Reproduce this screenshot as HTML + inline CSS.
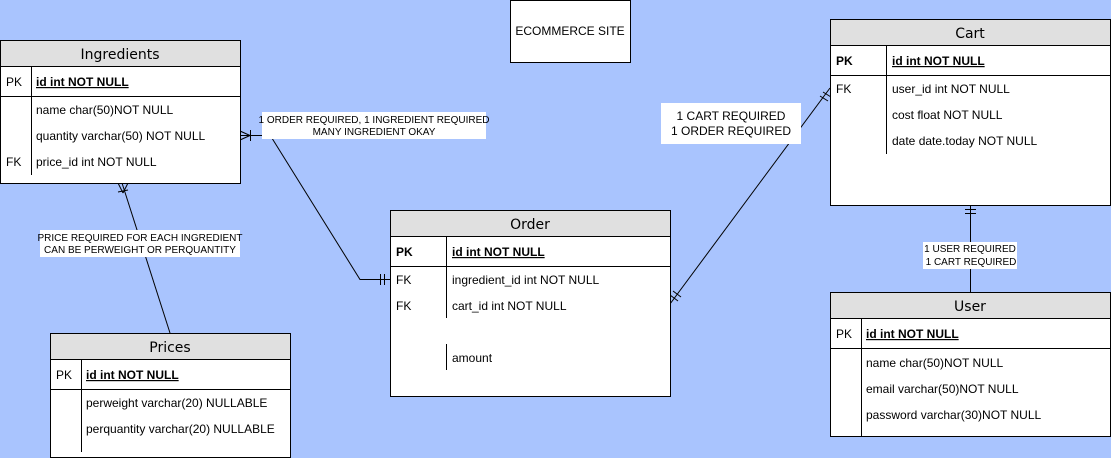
<!DOCTYPE html>
<html><head><meta charset="utf-8"><style>
body{margin:0;width:1111px;height:458px;background:#a9c4fe;overflow:hidden}
svg{display:block}
text{font-family:"Liberation Sans",Arial,sans-serif;font-size:12px;fill:#000}
.h{font-family:"DejaVu Sans",sans-serif;font-size:14px}
.s{font-size:10px}
</style></head><body>
<svg width="1111" height="458" viewBox="0 0 1111 458">
<g stroke="#000" fill="none" stroke-width="1">
<!-- connectors -->
<polyline points="240.5,135.5 262,135.5"/>
<polyline points="270,135 360,279.5 390,279.5"/>
<line x1="122" y1="183" x2="170" y2="333"/>
<line x1="670" y1="304" x2="830" y2="88"/>
<line x1="970.5" y1="205" x2="970.5" y2="292"/>
<!-- crows feet ingredients side -->
<line x1="240" y1="131" x2="250" y2="135.5"/><line x1="240" y1="140" x2="250" y2="135.5"/><line x1="250.5" y1="130" x2="250.5" y2="141"/>
<line x1="118" y1="183" x2="123" y2="193"/><line x1="128" y1="183" x2="123" y2="193"/><line x1="118" y1="192" x2="128" y2="190"/>
<line x1="380.5" y1="274" x2="380.5" y2="285"/><line x1="384.5" y1="274" x2="384.5" y2="285"/>
<line x1="820" y1="96" x2="828" y2="101"/><line x1="823" y1="92" x2="831" y2="97"/>
<line x1="670" y1="295" x2="678" y2="301"/><line x1="673" y1="291" x2="681" y2="297"/>
<line x1="965" y1="209.5" x2="976" y2="209.5"/><line x1="965" y1="213.5" x2="976" y2="213.5"/>
</g>
<!-- ecommerce -->
<rect x="510.5" y="0.5" width="120" height="62" fill="#fff" stroke="#000"/>
<text x="570" y="35" text-anchor="middle">ECOMMERCE SITE</text>
<!-- labels -->
<rect x="262" y="112" width="224" height="27" fill="#fff"/>
<text class="s" x="374" y="123" text-anchor="middle">1 ORDER REQUIRED, 1 INGREDIENT REQUIRED</text>
<text class="s" x="374" y="135" text-anchor="middle">MANY INGREDIENT OKAY</text>
<rect x="40" y="230" width="200" height="27" fill="#fff"/>
<text class="s" x="140" y="241" text-anchor="middle">PRICE REQUIRED FOR EACH INGREDIENT</text>
<text class="s" x="140" y="253" text-anchor="middle">CAN BE PERWEIGHT OR PERQUANTITY</text>
<rect x="661" y="103" width="140" height="41" fill="#fff"/>
<text x="731" y="120" text-anchor="middle">1 CART REQUIRED</text>
<text x="731" y="135" text-anchor="middle">1 ORDER REQUIRED</text>
<rect x="923" y="242" width="94" height="27" fill="#fff"/>
<text class="s" x="970" y="252" text-anchor="middle">1 USER REQUIRED</text>
<text class="s" x="971" y="265" text-anchor="middle">1 CART REQUIRED</text>

<!-- Ingredients -->
<g>
<rect x="0.5" y="40.5" width="240" height="143" fill="#fff" stroke="#000"/>
<rect x="0.5" y="40.5" width="240" height="26" fill="#e0e0e0" stroke="#000"/>
<line x1="0" y1="96.5" x2="240" y2="96.5" stroke="#000"/>
<line x1="31.5" y1="66" x2="31.5" y2="175" stroke="#000"/>
<text class="h" x="120" y="59" text-anchor="middle">Ingredients</text>
<text x="6" y="86">PK</text><text x="36" y="86" font-weight="bold" text-decoration="underline">id int NOT NULL</text>
<text x="36" y="114">name char(50)NOT NULL</text>
<text x="36" y="140">quantity varchar(50) NOT NULL</text>
<text x="6" y="166">FK</text><text x="36" y="166">price_id int NOT NULL</text>
</g>
<!-- Prices -->
<g>
<rect x="50.5" y="333.5" width="240" height="124" fill="#fff" stroke="#000"/>
<rect x="50.5" y="333.5" width="240" height="26" fill="#e0e0e0" stroke="#000"/>
<line x1="50" y1="389.5" x2="290" y2="389.5" stroke="#000"/>
<line x1="81.5" y1="359" x2="81.5" y2="452" stroke="#000"/>
<text class="h" x="170" y="352" text-anchor="middle">Prices</text>
<text x="56" y="379">PK</text><text x="86" y="379" font-weight="bold" text-decoration="underline">id int NOT NULL</text>
<text x="86" y="407">perweight varchar(20) NULLABLE</text>
<text x="86" y="433">perquantity varchar(20) NULLABLE</text>
</g>
<!-- Order -->
<g>
<rect x="390.5" y="210.5" width="280" height="186" fill="#fff" stroke="#000"/>
<rect x="390.5" y="210.5" width="280" height="26" fill="#e0e0e0" stroke="#000"/>
<line x1="390" y1="266.5" x2="670" y2="266.5" stroke="#000"/>
<line x1="446.5" y1="236" x2="446.5" y2="318" stroke="#000"/>
<line x1="446.5" y1="344" x2="446.5" y2="370" stroke="#000"/>
<text class="h" x="530" y="229" text-anchor="middle">Order</text>
<text x="396" y="256" font-weight="bold">PK</text><text x="452" y="256" font-weight="bold" text-decoration="underline">id int NOT NULL</text>
<text x="396" y="284">FK</text><text x="452" y="284">ingredient_id int NOT NULL</text>
<text x="396" y="310">FK</text><text x="452" y="310">cart_id int NOT NULL</text>
<text x="452" y="362">amount</text>
</g>
<!-- Cart -->
<g>
<rect x="830.5" y="19.5" width="280" height="186" fill="#fff" stroke="#000"/>
<rect x="830.5" y="19.5" width="280" height="26" fill="#e0e0e0" stroke="#000"/>
<line x1="830" y1="75.5" x2="1110" y2="75.5" stroke="#000"/>
<line x1="886.5" y1="45" x2="886.5" y2="154" stroke="#000"/>
<text class="h" x="970" y="38" text-anchor="middle">Cart</text>
<text x="836" y="65" font-weight="bold">PK</text><text x="892" y="65" font-weight="bold" text-decoration="underline">id int NOT NULL</text>
<text x="836" y="93">FK</text><text x="892" y="93">user_id int NOT NULL</text>
<text x="892" y="119">cost float NOT NULL</text>
<text x="892" y="145">date date.today NOT NULL</text>
</g>
<!-- User -->
<g>
<rect x="830.5" y="292.5" width="280" height="144" fill="#fff" stroke="#000"/>
<rect x="830.5" y="292.5" width="280" height="26" fill="#e0e0e0" stroke="#000"/>
<line x1="830" y1="348.5" x2="1110" y2="348.5" stroke="#000"/>
<line x1="861.5" y1="318" x2="861.5" y2="436" stroke="#000"/>
<text class="h" x="970" y="311" text-anchor="middle">User</text>
<text x="836" y="338">PK</text><text x="866" y="338" font-weight="bold" text-decoration="underline">id int NOT NULL</text>
<text x="866" y="367">name char(50)NOT NULL</text>
<text x="866" y="393">email varchar(50)NOT NULL</text>
<text x="866" y="419">password varchar(30)NOT NULL</text>
</g>
</svg>
</body></html>
